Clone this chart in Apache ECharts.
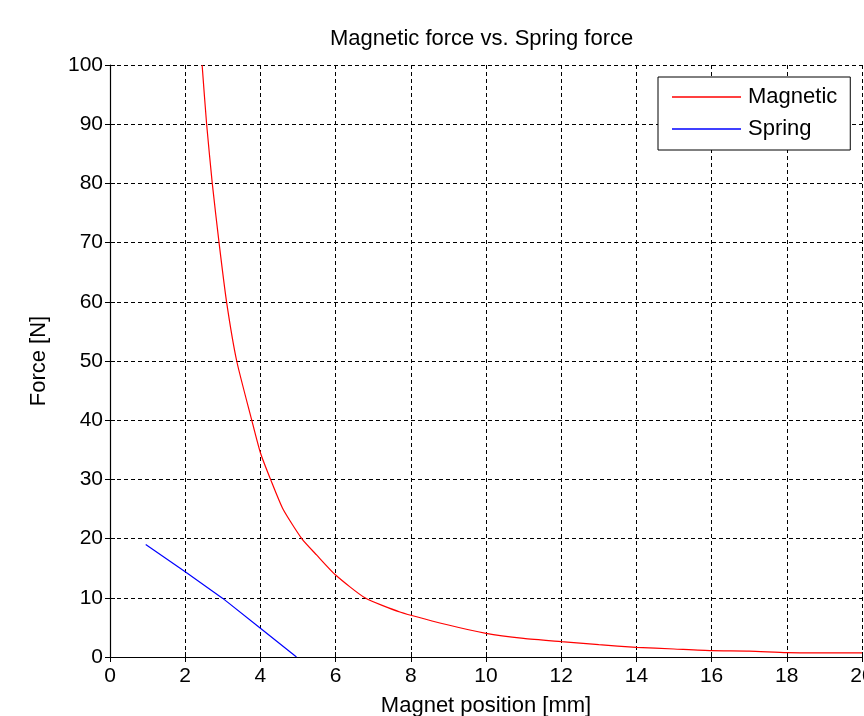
<!DOCTYPE html>
<html>
<head>
<meta charset="utf-8">
<script src="https://cdn.jsdelivr.net/npm/echarts@6/dist/echarts.min.js"></script>
<style>
  html, body { margin: 0; padding: 0; background: #fff; }
  #chart { width: 864px; height: 716px; }
</style>
</head>
<body>
<div id="chart"></div>
<script>
// values
const magnetX = [2.45, 2.57, 2.72, 2.9, 3.1, 3.37, 3.77, 4.0, 4.27, 4.6, 5.1, 5.5, 6.0, 6.78, 7.71, 9, 10, 11, 12, 13, 14, 15, 16, 17, 18, 19, 20]
const magnetY = [100, 90, 80, 70, 60, 50, 40, 34.5, 30, 25, 20, 17.2, 13.85, 10, 7.6, 5.4, 4.0, 3.15, 2.6, 2.08, 1.63, 1.35, 1.07, 1.0, 0.73, 0.7, 0.7]
const springX = [0.95, 2, 3, 4, 4.96]
const springY = [19, 14.4, 9.9, 4.85, 0]
const xTicks = { min: 0, max: 20, step: 2 }
const yTicks = { min: 0, max: 100, step: 10 }

const font = 'Liberation Sans, Arial, sans-serif'

function pairs(xs, ys) {
  return xs.map((x, i) => [x, ys[i]])
}

const chart = echarts.init(document.getElementById('chart'), null, { renderer: 'canvas' })

const gridLine = { show: true, lineStyle: { color: '#000', width: 1, type: [4, 3] } }
const tick = { show: true, inside: true, length: 5, lineStyle: { color: '#000' } }

const option = {
  backgroundColor: '#fff',
  animation: false,
  title: {
    text: 'Magnetic force vs. Spring force',
    left: 330,
    top: 28,
    padding: 0,
    textStyle: { fontFamily: font, fontSize: 22, fontWeight: 'normal', color: '#000' },
  },
  legend: {
    orient: 'vertical',
    left: 658,
    top: 77,
    padding: [9, 13, 10, 14],
    itemGap: 10,
    itemWidth: 69,
    itemHeight: 1.5,
    icon: 'rect',
    backgroundColor: '#fff',
    borderColor: '#000',
    borderWidth: 1,
    textStyle: { fontFamily: font, fontSize: 22, lineHeight: 22, color: '#000', padding: [0, 0, 0, 2] },
    data: ['Magnetic', 'Spring'],
  },
  grid: { left: 110, right: 2, top: 65, bottom: 59, containLabel: false, outerBoundsMode: 'none' },
  xAxis: [
    {
      type: 'value',
      min: xTicks.min,
      max: xTicks.max,
      interval: xTicks.step,
      name: 'Magnet position [mm]',
      nameLocation: 'middle',
      nameGap: 38,
      nameTextStyle: { fontFamily: font, fontSize: 22, color: '#000' },
      axisLine: { show: true, onZero: false, lineStyle: { color: '#000', width: 1.2 } },
      axisTick: tick,
      axisLabel: { fontFamily: font, fontSize: 21, color: '#000', margin: 9 },
      splitLine: gridLine,
    },
    {
      type: 'value',
      position: 'top',
      min: xTicks.min,
      max: xTicks.max,
      interval: xTicks.step,
      axisLine: { show: false },
      axisTick: tick,
      axisLabel: { show: false },
      splitLine: { show: false },
    },
  ],
  yAxis: [
    {
      type: 'value',
      min: yTicks.min,
      max: yTicks.max,
      interval: yTicks.step,
      name: 'Force [N]',
      nameLocation: 'middle',
      nameGap: 60,
      nameTextStyle: { fontFamily: font, fontSize: 22, color: '#000' },
      axisLine: { show: true, onZero: false, lineStyle: { color: '#000', width: 1.2 } },
      axisTick: tick,
      axisLabel: { fontFamily: font, fontSize: 21, color: '#000', margin: 7 },
      splitLine: gridLine,
    },
    {
      type: 'value',
      position: 'right',
      min: yTicks.min,
      max: yTicks.max,
      interval: yTicks.step,
      axisLine: { show: false },
      axisTick: tick,
      axisLabel: { show: false },
      splitLine: { show: false },
    },
  ],
  series: [
    {
      name: 'Magnetic',
      type: 'line',
      data: pairs(magnetX, magnetY),
      symbol: 'none',
      smooth: 0.2,
      color: '#ff0000',
      lineStyle: { color: '#ff0000', width: 1.2 },
      z: 5,
    },
    {
      name: 'Spring',
      type: 'line',
      data: pairs(springX, springY),
      symbol: 'none',
      color: '#0000ff',
      lineStyle: { color: '#0000ff', width: 1.2 },
      z: 5,
    },
  ],
}

chart.setOption(option)
</script>
</body>
</html>
